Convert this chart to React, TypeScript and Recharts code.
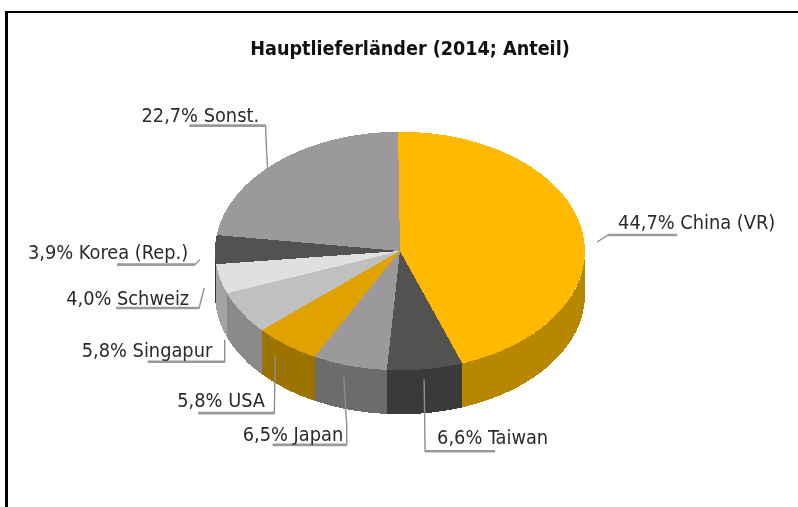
import { PieChart, Pie } from "recharts";

const sliceNames = ["China (VR)", "Taiwan", "Japan", "USA", "Singapur", "Schweiz", "Korea (Rep.)", "Sonst."];
const sliceShares = [44.7, 6.6, 6.5, 5.8, 5.8, 4.0, 3.9, 22.7];
const topColors = ["#ffb900", "#525350", "#9b999c", "#e0a200", "#c0c0c0", "#e0e0e0", "#525350", "#9b999c"];
const wallColors = ["#b78700", "#3a3b38", "#6d6b6e", "#9c7300", "#8a8a8a", "#a3a3a3", "#3a3b38", "#6d6b6e"];

const pieData = sliceNames.map((name, i) => ({ name, value: sliceShares[i] }));

const TILT = 0.645;
const DEPTH = 44;

// label placement, relative to the rim point at the middle of each slice
const leaderOffsets = [
  [[15, 12], [26, 5], [95, 5]],
  [[-1, 10], [0, 82], [70, 82]],
  [[-6, 11], [-3, 59], [-3, 79], [-77, 79]],
  [[-11, 10], [-12, 68], [-88, 68]],
  [[-17, 27], [-17, 49], [-94, 49]],
  [[-16, 9], [-21, 29], [-104, 29]],
  [[-15, 10], [-20, 15], [-98, 15]],
  [[-10, 6], [-11, -12], [-12, -36], [-88, -36]],
];
const textOffsets = [[36, -1], [12, 75], [-107, 75], [-109, 62], [-160, 44], [-154, 26], [-187, 9], [-136, -40]];

const rim = (cx: number, cy: number, r: number, deg: number) => {
  const a = (deg * Math.PI) / 180;
  return [cx + r * Math.cos(a), cy - r * TILT * Math.sin(a)];
};

function TopSlice(props: any) {
  const { cx, cy, outerRadius: r, startAngle, endAngle, index } = props;
  const [x0, y0] = rim(cx, cy, r, startAngle);
  const [x1, y1] = rim(cx, cy, r, endAngle);
  const large = Math.abs(startAngle - endAngle) > 180 ? 1 : 0;
  return (
    <path
      d={`M${cx},${cy}L${x0},${y0}A${r},${r * TILT} 0 ${large} 1 ${x1},${y1}Z`}
      fill={topColors[index]}
      shapeRendering="crispEdges"
    />
  );
}

// outer wall, only the part of the rim that faces the viewer (below the centre line)
function WallSlice(props: any) {
  const { cx, cy, outerRadius: r, startAngle, endAngle, index } = props;
  const from = Math.min(startAngle, 0);
  const to = Math.max(endAngle, -180);
  if (from <= to) return <g />;
  const [x0, y0] = rim(cx, cy, r, from);
  const [x1, y1] = rim(cx, cy, r, to);
  const ry = r * TILT;
  return (
    <path
      d={`M${x0},${y0}A${r},${ry} 0 0 1 ${x1},${y1}L${x1},${y1 + DEPTH}A${r},${ry} 0 0 0 ${x0},${y0 + DEPTH}Z`}
      fill={wallColors[index]}
      shapeRendering="crispEdges"
    />
  );
}

function SliceLabel(props: any) {
  const { cx, cy, outerRadius: r, midAngle, index } = props;
  const [ax, ay] = rim(cx, cy, r, midAngle);
  const pts = leaderOffsets[index].map(([dx, dy]) => [ax + dx, ay + dy]);
  const last = pts.slice(-2);
  const [tx, ty] = textOffsets[index];
  return (
    <g>
      <polyline points={pts.map((p) => p.join(",")).join(" ")} fill="none" stroke="#8e8e8e" strokeWidth={1.4} />
      <polyline points={last.map((p) => p.join(",")).join(" ")} fill="none" stroke="#9a9a9a" strokeWidth={2.6} />
      <text
        x={ax + tx}
        y={ay + ty}
        fontFamily="DejaVu Sans"
        fontSize={19.8}
        fill="#2a2a2a"
        style={{ fontStretch: "condensed" }}
      >
        {`${sliceShares[index].toFixed(1).replace(".", ",")}% ${sliceNames[index]}`}
      </text>
    </g>
  );
}

export default function App() {
  return (
    <div style={{ position: "absolute", left: 0, top: 0, width: 798, height: 507, overflow: "hidden", background: "#fff" }}>
      <div style={{ position: "absolute", left: 5, top: 11, right: 0, bottom: 0, borderLeft: "3px solid #000", borderTop: "2px solid #000" }} />
      <div style={{ position: "absolute", left: 0, top: 0, filter: "blur(0.6px)" }}>
        <PieChart width={798} height={507} margin={{ top: 0, right: 0, bottom: 0, left: 0 }}>
          <text
            x={410}
            y={55}
            textAnchor="middle"
            fontFamily="DejaVu Sans"
            fontWeight="bold"
            fontSize={19.6}
            fill="#111111"
            style={{ fontStretch: "condensed" }}
          >
            Hauptlieferländer (2014; Anteil)
          </text>
          <Pie
            data={pieData}
            dataKey="value"
            nameKey="name"
            cx={400}
            cy={251}
            outerRadius={185}
            startAngle={90.6}
            endAngle={-269.4}
            stroke="none"
            shape={WallSlice}
            label={false}
            labelLine={false}
            isAnimationActive={false}
          />
          <Pie
            data={pieData}
            dataKey="value"
            nameKey="name"
            cx={400}
            cy={251}
            outerRadius={185}
            startAngle={90.6}
            endAngle={-269.4}
            stroke="none"
            shape={TopSlice}
            label={SliceLabel}
            labelLine={false}
            isAnimationActive={false}
          />
        </PieChart>
      </div>
    </div>
  );
}
